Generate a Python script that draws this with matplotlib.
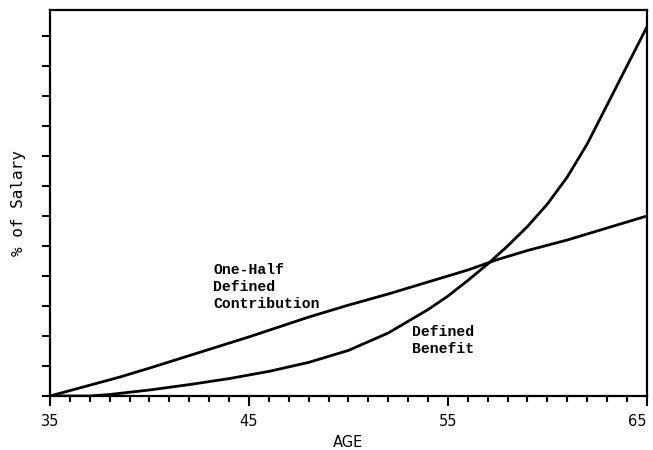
import numpy as np
import matplotlib.pyplot as plt

# values (age, % of salary in tick units)
db_age = [35, 37, 38, 40, 42, 44, 46, 48, 50, 52, 54, 55, 56, 57, 58, 59, 60, 61, 62, 63, 64, 65]
db_val = [0, 0, 0.05, 0.2, 0.38, 0.58, 0.82, 1.12, 1.52, 2.1, 2.88, 3.33, 3.85, 4.4, 5.0, 5.65,
          6.4, 7.3, 8.4, 9.7, 11.0, 12.3]

dc_age = [35, 37, 38.5, 40, 42.5, 45, 48, 50, 52, 54, 56, 57.5, 59, 61, 63, 65]
dc_val = [0, 0.36, 0.63, 0.93, 1.45, 1.97, 2.63, 3.03, 3.4, 3.8, 4.2, 4.55, 4.85, 5.2, 5.6, 6.0]

major_ages = [35, 45, 55, 65]

fig = plt.figure(figsize=(6.53, 4.5), dpi=100)
ax = fig.add_axes([0.0766, 0.12, 0.914, 0.858])

ax.plot(db_age, db_val, color='black', lw=2, solid_joinstyle='round')
ax.plot(dc_age, dc_val, color='black', lw=2, solid_joinstyle='round')

ax.set_xlim(35, 65)
ax.set_ylim(0, 12.87)

for s in ax.spines.values():
    s.set_linewidth(1.6)

ax.set_xticks(major_ages)
ax.set_xticks(np.arange(35, 66, 1), minor=True)
ax.set_yticks(np.arange(0, 13, 1))
ax.set_yticklabels([])
ax.tick_params(axis='x', which='major', length=7, width=1.5, direction='out', labelsize=10.5, pad=6)
ax.tick_params(axis='x', which='minor', length=4, width=1.5, direction='out')
ax.tick_params(axis='y', which='major', length=6, width=1.5, direction='out')
# last label sits flush against the figure edge, as in the original
ax.get_xticklabels()[-1].set_horizontalalignment('right')

ax.set_xlabel('AGE', fontsize=10.5, labelpad=4)
ax.set_ylabel('% of Salary', family='DejaVu Sans Mono', fontsize=11.5, labelpad=8)

ax.text(43.2, 4.45, 'One-Half\nDefined\nContribution', family='Liberation Mono',
        fontweight='bold', fontsize=10.6, va='top', ha='left', linespacing=1.3)
ax.text(53.2, 2.37, 'Defined\nBenefit', family='Liberation Mono',
        fontweight='bold', fontsize=10.6, va='top', ha='left', linespacing=1.3)

fig.savefig('out.png', dpi=100)
